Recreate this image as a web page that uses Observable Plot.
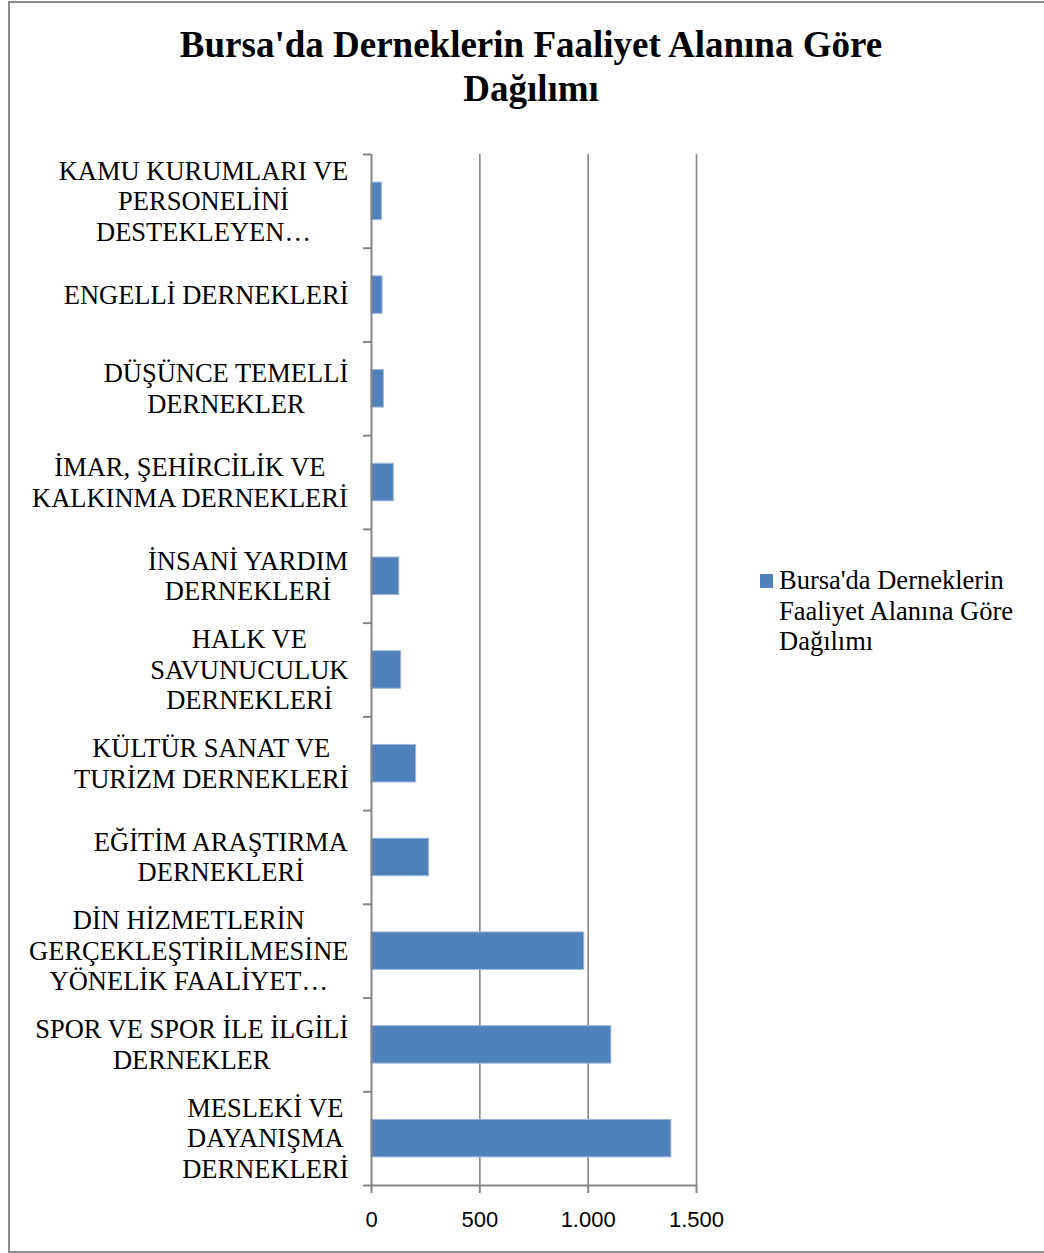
<!DOCTYPE html>
<html>
<head>
<meta charset="utf-8">
<script src="https://cdn.jsdelivr.net/npm/d3@7"></script>
<script src="https://cdn.jsdelivr.net/npm/@observablehq/plot@0.6"></script>
<style>
  html, body { margin: 0; padding: 0; background: #fff; }
  body { width: 1044px; height: 1253px; position: relative; overflow: hidden; }
  #frame { position: absolute; left: 8px; top: 1px; width: 1100px; height: 1252px; border: 2px solid #8c8c8c; box-sizing: border-box; }
  #title { position: absolute; left: 0; top: 23px; width: 1062px; text-align: center; font-family: "Liberation Serif", serif; font-weight: bold; font-size: 37px; line-height: 44px; color: #000; }
  #chart { position: absolute; left: 0; top: 130px; line-height: 0; }
  #chart svg { display: block; }
  #legend { position: absolute; left: 760px; top: 565px; font-family: "Liberation Serif", serif; font-size: 26.5px; line-height: 30.5px; color: #000; }
  #legend .sw { position: absolute; left: 0; top: 9px; width: 13px; height: 14px; background: #4F81BD; }
  #legend .tx { position: absolute; left: 19px; top: 0; white-space: nowrap; }
</style>
</head>
<body>
<div id="frame"></div>
<div id="title">Bursa'da Derneklerin Faaliyet Alanına Göre<br>Dağılımı</div>
<div id="chart"></div>
<div id="legend"><div class="sw"></div><div class="tx">Bursa'da Derneklerin<br>Faaliyet Alanına Göre<br>Dağılımı</div></div>
<script>
// Categories, top to bottom
const categories = [
  "KAMU KURUMLARI VE\nPERSONELİNİ\nDESTEKLEYEN…",
  "ENGELLİ DERNEKLERİ",
  "DÜŞÜNCE TEMELLİ\nDERNEKLER",
  "İMAR, ŞEHİRCİLİK VE\nKALKINMA DERNEKLERİ",
  "İNSANİ YARDIM\nDERNEKLERİ",
  "HALK VE\nSAVUNUCULUK\nDERNEKLERİ",
  "KÜLTÜR SANAT VE\nTURİZM DERNEKLERİ",
  "EĞİTİM ARAŞTIRMA\nDERNEKLERİ",
  "DİN HİZMETLERİN\nGERÇEKLEŞTİRİLMESİNE\nYÖNELİK FAALİYET…",
  "SPOR VE SPOR İLE İLGİLİ\nDERNEKLER",
  "MESLEKİ VE\nDAYANIŞMA\nDERNEKLERİ"
];
const values = [48, 51, 57, 103, 128, 137, 206, 266, 982, 1107, 1384];
const xTicks = [0, 500, 1000, 1500];

const data = categories.map((c, i) => ({category: c, value: values[i]}));

const W = 1044, H = 1110;
const mTop = 24, mBottom = 55, mLeft = 371, mRight = 348;
const plotH = H - mTop - mBottom;
const step = plotH / categories.length;
const gray = "#868686";
const labelFont = "Liberation Serif";
const labelSize = 26.5;

const trLocale = d3.formatLocale({decimal: ",", thousands: ".", grouping: [3], currency: ["", ""]});
const fmt = trLocale.format(",");

// measure label widths to center multi-line labels, right aligned as a block
const ctx = document.createElement("canvas").getContext("2d");
ctx.font = `${labelSize}px "${labelFont}"`;
const labelMarks = categories.map(c => {
  const lines = c.split("\n");
  const maxW = d3.max(lines, l => ctx.measureText(l).width);
  return Plot.text([c], {
    y: d => d, x: () => 0,
    text: d => d,
    textAnchor: "middle",
    lineHeight: 30.5 / labelSize,
    dx: -(23 + maxW / 2),
    dy: -1,
    fontSize: labelSize,
    fontFamily: labelFont,
    fill: "#000"
  });
});

const chart = Plot.plot({
  width: W, height: H,
  marginTop: mTop, marginBottom: mBottom, marginLeft: mLeft, marginRight: mRight,
  style: {background: "transparent", overflow: "visible"},
  x: {domain: [0, 1500], ticks: xTicks, tickFormat: fmt},
  y: {domain: categories, paddingInner: 0.6, paddingOuter: 0.3, round: false, axis: null},
  marks: [
    Plot.ruleX(xTicks.filter(d => d > 0), {stroke: gray, strokeWidth: 1.6}),
    Plot.barX(data, {y: "category", x: "value", fill: "#4F81BD", stroke: "#9db7db", strokeWidth: 1}),
    Plot.ruleX([0], {stroke: gray, strokeWidth: 2}),
    Plot.frame({anchor: "bottom", stroke: gray, strokeWidth: 2}),
    // category boundary ticks on the y axis
    Plot.ruleY(categories, {y: d => d, x1: -37, x2: 0, dy: -step / 2, stroke: gray, strokeWidth: 2}),
    Plot.ruleY(categories.slice(-1), {y: d => d, x1: -37, x2: 0, dy: step / 2, stroke: gray, strokeWidth: 2}),
    Plot.axisX({ticks: xTicks, tickFormat: fmt, tickSize: 8, tickPadding: 18, stroke: gray, strokeWidth: 2, strokeOpacity: 1,
      fontSize: 22, fontFamily: "Liberation Sans", fill: "#000", label: null}),
    ...labelMarks
  ]
});
document.getElementById("chart").appendChild(chart);
</script>
</body>
</html>
